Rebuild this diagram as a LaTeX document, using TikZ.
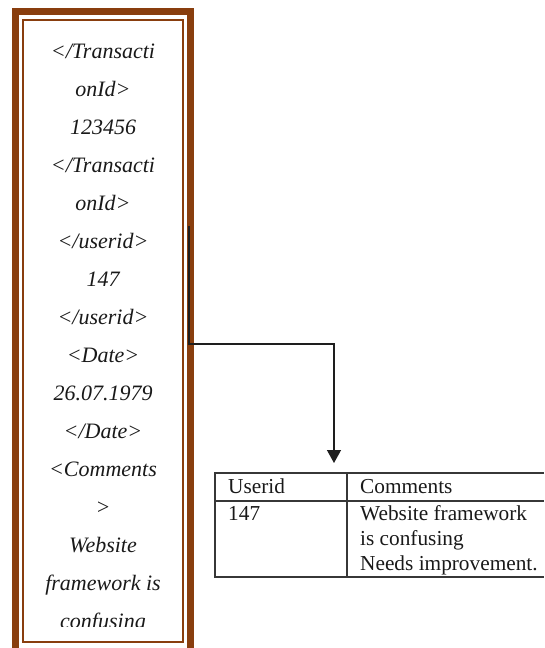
\documentclass[tikz,border=0pt]{standalone}
\usepackage{fontspec}
\setmainfont{Liberation Serif}
\usetikzlibrary{arrows.meta}
\definecolor{frbrown}{RGB}{137,62,14}
\definecolor{conn}{RGB}{30,30,30}
\definecolor{tline}{RGB}{55,55,55}
\begin{document}
\begin{tikzpicture}[x=1pt,y=-1pt,
  xmltext/.style={font=\fontsize{22}{25}\selectfont\itshape, anchor=base, inner sep=0pt, text=black!90},
  celltext/.style={font=\fontsize{21.3}{25}\selectfont, anchor=base west, inner sep=0pt, text=black!90},
  tableline/.style={draw=tline, line width=1.2pt},
  connector/.style={draw=conn, line width=1.4pt},
  framebox/.style={draw=frbrown, anchor=north west, inner sep=0pt, outer sep=0pt},
]
\useasboundingbox (0,0) rectangle (544,648);
% frame
\node[framebox, line width=7.5pt, minimum width=175pt, minimum height=660pt] (frame) at (15.7,11.5) {};
\node[framebox, line width=2.2pt, minimum width=160pt, minimum height=622pt] (inner) at (23.2,20.2) {};
% xml text
\begin{scope}
\clip (25,22) rectangle (182,626.5);
\foreach \t [count=\k from 0] in {{</Transacti},{onId>},{123456},{</Transacti},{onId>},{</userid>},{147},{</userid>},{<Date>},{26.07.1979},{</Date>},{<Comments},{>},{Website},{framework is},{confusing}}
  \node[xmltext] (l\k) at (103,58+38*\k) {\t};
\end{scope}
% table
\coordinate (tnw) at (215,473);
\coordinate (tsw) at (215,577);
\coordinate (tne) at (544,473);
\coordinate (tse) at (544,577);
\coordinate (hsl) at (215,501);
\coordinate (hsr) at (544,501);
\coordinate (dvt) at (347,473);
\coordinate (dvb) at (347,577);
\draw[tableline] (tne) -- (tnw) -- (tsw) -- (tse);
\draw[tableline] (hsl) -- (hsr);
\draw[tableline] (dvt) -- (dvb);
\node[celltext] (h1) at (228,493) {Userid};
\node[celltext] (h2) at (360,493) {Comments};
\node[celltext] (c1) at (228,520) {147};
\node[celltext] (c2) at (360,520) {Website framework};
\node[celltext] (c3) at (360,545) {is confusing};
\node[celltext] (c4) at (360,570) {Needs improvement.};
% connector
\coordinate (src) at (189,226);
\coordinate (knee) at (189,344);
\coordinate (dst) at (334,463);
\draw[connector,-{Triangle[width=14pt,length=13pt]}] (src) -- (knee) -| (dst);
\end{tikzpicture}
\end{document}
